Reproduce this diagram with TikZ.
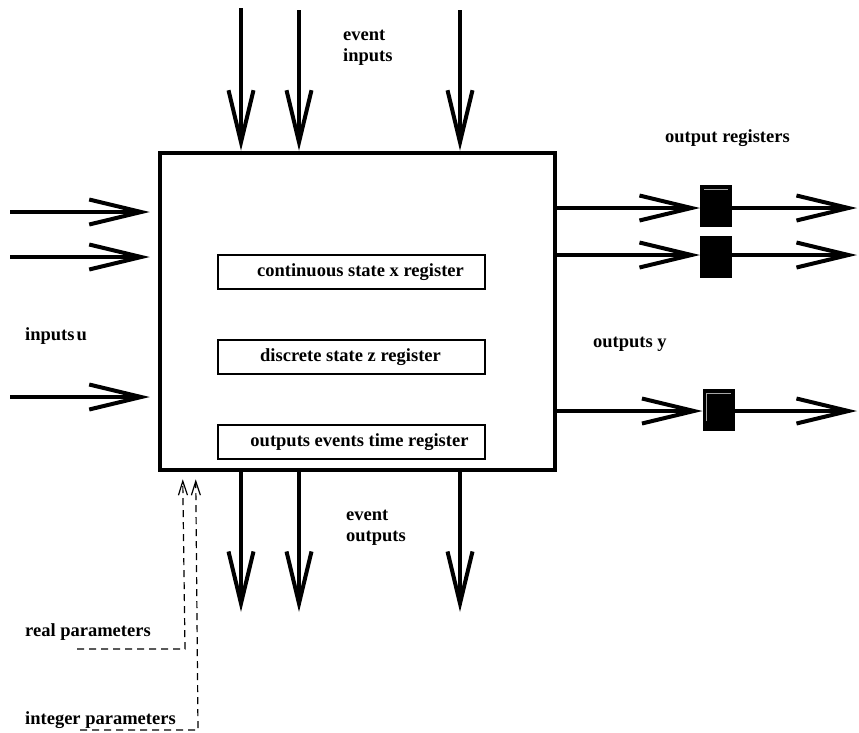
\documentclass[tikz,border=0pt]{standalone}
\usepackage{fontspec}
\setmainfont{Liberation Serif}
\usetikzlibrary{arrows.meta}
\begin{document}
\begin{tikzpicture}[x=1pt,y=-1pt,
  lbl/.style={font=\bfseries\fontsize{18.5}{21}\selectfont, inner sep=0pt, anchor=base west, align=left},
  reglbl/.style={font=\bfseries\fontsize{18.5}{23}\selectfont, inner sep=0pt},
  flow/.style={line width=4pt, -{Straight Barb[length=52pt,width=25pt,line width=4pt]}},
  param/.style={line width=1.2pt, dash pattern=on 7pt off 5pt, -{Straight Barb[length=14pt,width=9pt,line width=1.2pt]}},
  block/.style={draw, line width=4.5pt, minimum width=395pt, minimum height=317pt, inner sep=0pt},
  regbox/.style={draw, line width=1.8pt, minimum width=267pt, minimum height=34pt, inner sep=0pt},
  outreg/.style={draw, fill=black, line width=1pt, minimum width=31pt, minimum height=41pt, inner sep=0pt}
]
\useasboundingbox (0,0) rectangle (859,732);

% main block and its internal registers
\node[block] (blk) at (357.5,311.5) {};
\node[regbox] (xreg) at (351.5,272) {};
\node[regbox] (zreg) at (351.5,357) {};
\node[regbox] (treg) at (351.5,442) {};
\node[reglbl] (xtxt) at ([xshift=9pt]xreg.center) {continuous state x register};
\node[reglbl] (ztxt) at ([xshift=-1pt]zreg.center) {discrete state z register};
\node[reglbl] (ttxt) at ([xshift=8pt]treg.center) {outputs events time register};

% output registers
\node[outreg] (r1) at (716,206) {};
\node[outreg] (r2) at (716,256.5) {};
\node[outreg] (r3) at (718.5,410) {};
\draw[gray!70, line width=0.8pt] ([xshift=4pt,yshift=-4pt]r1.north west) -- ([xshift=-4pt,yshift=-4pt]r1.north east);
\draw[gray!70, line width=0.8pt] ([xshift=4pt,yshift=-32pt]r3.north west) -- ([xshift=4pt,yshift=-4pt]r3.north west) -- ([xshift=-4pt,yshift=-4pt]r3.north east);

% free ends of the connectors
\coordinate (ei1) at (241,8);
\coordinate (ei2) at (299,10);
\coordinate (ei3) at (460,10);
\coordinate (eo1) at (241,612);
\coordinate (eo2) at (299,612);
\coordinate (eo3) at (460,612);
\coordinate (u1) at (10,212);
\coordinate (u2) at (10,257);
\coordinate (u3) at (10,397);
\coordinate (y1) at (857,208);
\coordinate (y2) at (857,255);
\coordinate (y3) at (857,411);
\coordinate (rp) at (77,649);
\coordinate (ip) at (80,730);

% event inputs and outputs
\draw[flow] (ei1) -- (ei1 |- blk.north);
\draw[flow] (ei2) -- (ei2 |- blk.north);
\draw[flow] (ei3) -- (ei3 |- blk.north);
\draw[flow] (eo1 |- blk.south) -- (eo1);
\draw[flow] (eo2 |- blk.south) -- (eo2);
\draw[flow] (eo3 |- blk.south) -- (eo3);

% regular inputs
\draw[flow] (u1) -- ([xshift=-8pt]blk.west |- u1);
\draw[flow] (u2) -- ([xshift=-8pt]blk.west |- u2);
\draw[flow] (u3) -- ([xshift=-8pt]blk.west |- u3);

% regular outputs through the registers
\draw[flow] (blk.east |- y1) -- (r1.west |- y1);
\draw[flow] (blk.east |- y2) -- (r2.west |- y2);
\draw[flow] (blk.east |- y3) -- (r3.west |- y3);
\draw[flow] (r1.east |- y1) -- (y1);
\draw[flow] (r2.east |- y2) -- (y2);
\draw[flow] (r3.east |- y3) -- (y3);

% parameters
\draw[param] (rp) -- (185,649) -- ([xshift=185pt-160pt,yshift=-7pt]blk.south west);
\draw[param] (ip) -- (198,730) -- ([xshift=198pt-160pt,yshift=-7pt]blk.south west);

% labels
\node[lbl] (lei) at (343,61) {event\\inputs};
\node[lbl] (leo) at (346,541) {event\\outputs};
\node[lbl] (lor) at (665,142) {output registers};
\node[lbl] (lu) at (25,340) {inputs\kern2pt u};
\node[lbl] (ly) at (593,347) {outputs y};
\node[lbl] (lrp) at (25,636) {real parameters};
\node[lbl] (lip) at (25,724) {integer parameters};
\end{tikzpicture}
\end{document}
